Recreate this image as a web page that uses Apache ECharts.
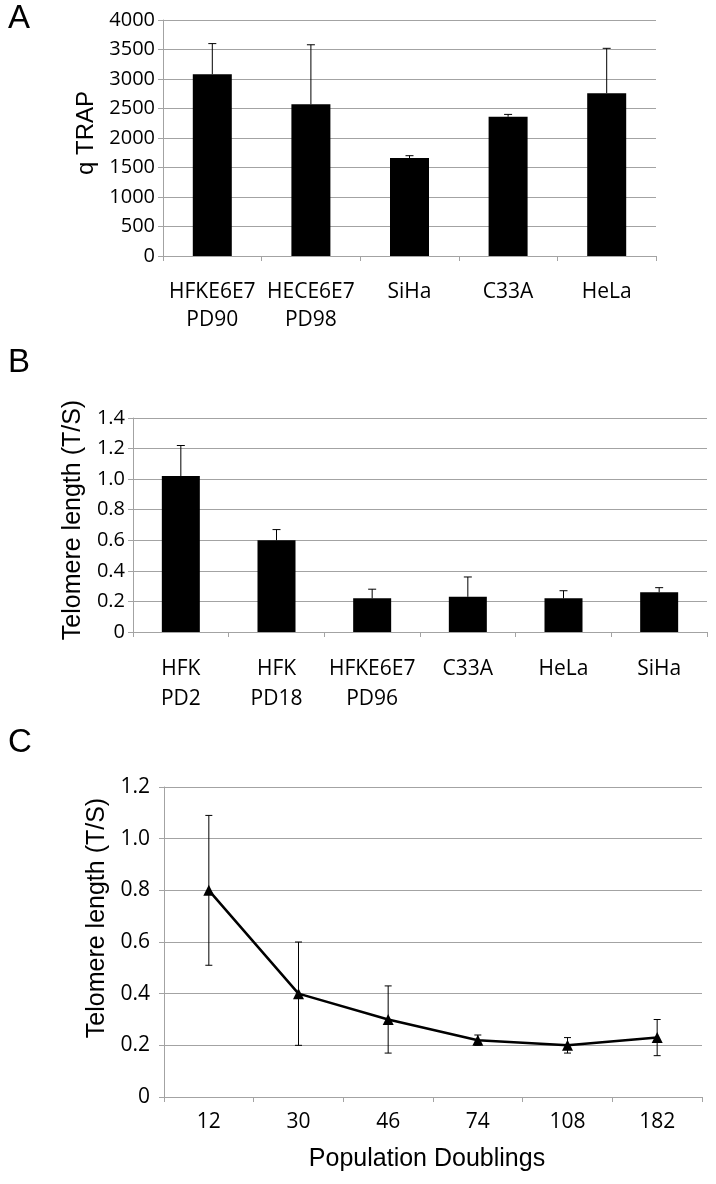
<!DOCTYPE html>
<html><head><meta charset="utf-8">
<script src="https://cdn.jsdelivr.net/npm/echarts@6/dist/echarts.min.js"></script>
<style>html,body{margin:0;padding:0;background:#fff}#c{width:716px;height:1184px}</style>
</head><body><div id="c"></div>
<script>
// Panel A
const catsA = ['HFKE6E7\nPD90', 'HECE6E7\nPD98', 'SiHa', 'C33A', 'HeLa'];
const valsA = [3080, 2570, 1660, 2360, 2760];
const errTopA = [3600, 3580, 1700, 2400, 3520];
// Panel B
const catsB = ['HFK\nPD2', 'HFK\nPD18', 'HFKE6E7\nPD96', 'C33A', 'HeLa', 'SiHa'];
const valsB = [1.02, 0.60, 0.22, 0.23, 0.22, 0.26];
const errTopB = [1.22, 0.67, 0.28, 0.36, 0.27, 0.29];
// Panel C
const catsC = ['12', '30', '46', '74', '108', '182'];
const valsC = [0.80, 0.40, 0.30, 0.22, 0.20, 0.23];
const errLowC = [0.51, 0.20, 0.17, 0.20, 0.17, 0.16];
const errHighC = [1.09, 0.60, 0.43, 0.24, 0.23, 0.30];

const GRID = '#a3a3a3';
const TICKFONT = 'Open Sans';
const NAMEFONT = 'Liberation Sans';

function errRender(capHalf, lowerCap) {
  return function (params, api) {
    const x = api.value(0), lo = api.value(1), hi = api.value(2);
    const pLo = api.coord([x, lo]), pHi = api.coord([x, hi]);
    const style = { stroke: '#000', lineWidth: 1 };
    const ch = [
      { type: 'line', shape: { x1: pLo[0], y1: pLo[1], x2: pHi[0], y2: pHi[1] }, style },
      { type: 'line', shape: { x1: pHi[0] - capHalf, y1: pHi[1], x2: pHi[0] + capHalf, y2: pHi[1] }, style }
    ];
    if (lowerCap) ch.push({ type: 'line', shape: { x1: pLo[0] - capHalf, y1: pLo[1], x2: pLo[0] + capHalf, y2: pLo[1] }, style });
    return { type: 'group', children: ch };
  };
}

function catAxis(grid, cats, fontSize, lineHeight, margin, extra) {
  return Object.assign({
    type: 'category', gridIndex: grid, data: cats,
    axisLine: { show: true, lineStyle: { color: GRID, width: 1 } },
    axisTick: { show: true, length: 5, lineStyle: { color: GRID } },
    axisLabel: { color: '#000', fontFamily: TICKFONT, fontSize, lineHeight, margin, interval: 0 },
    splitLine: { show: false }
  }, extra || {});
}
function valAxis(grid, min, max, interval, fmt, fontSize, margin, name, nameGap, nameSize, shiftUp) {
  return {
    type: 'value', gridIndex: grid, min, max, interval,
    axisLine: { show: true, lineStyle: { color: GRID, width: 1 } },
    axisTick: { show: true, length: 5, lineStyle: { color: GRID } },
    axisLabel: { color: '#000', fontFamily: TICKFONT, fontSize, margin, formatter: fmt },
    splitLine: { show: true, lineStyle: { color: GRID, width: 1 } },
    name, nameLocation: 'middle', nameRotate: 90, nameGap,
    nameTextStyle: { color: '#000', fontFamily: NAMEFONT, fontSize: nameSize, padding: [0, 0, 0, shiftUp * 2] }
  };
}
const fmt1 = v => v === 0 ? '0' : v.toFixed(1);
const LETTER = '33px "Liberation Sans"';

const option = {
  animation: false,
  backgroundColor: '#fff',
  grid: [
    { left: 163, top: 20, width: 493, height: 236, containLabel: false, outerBoundsMode: 'none' },
    { left: 133, top: 418, width: 574, height: 214, containLabel: false, outerBoundsMode: 'none' },
    { left: 164, top: 787, width: 538, height: 310, containLabel: false, outerBoundsMode: 'none' }
  ],
  xAxis: [
    catAxis(0, catsA, 21, 28, 22),
    catAxis(1, catsB, 21, 30, 22),
    catAxis(2, catsC, 21, 26, 12, {
      name: 'Population Doublings', nameLocation: 'middle', nameGap: 50,
      nameTextStyle: { color: '#000', fontFamily: NAMEFONT, fontSize: 25, padding: [0, 12, 0, 0] }
    })
  ],
  yAxis: [
    valAxis(0, 0, 4000, 500, v => String(v), 20, 8, 'q TRAP', 58, 24, 5),
    valAxis(1, 0, 1.4, 0.2, fmt1, 20, 8, 'Telomere length (T/S)', 46, 25, 5),
    valAxis(2, 0, 1.2, 0.2, fmt1, 21, 14, 'Telomere length (T/S)', 54, 25, 24)
  ],
  graphic: [
    { type: 'text', left: 8, top: 2, style: { text: 'A', font: LETTER, fill: '#000' } },
    { type: 'text', left: 8, top: 346, style: { text: 'B', font: LETTER, fill: '#000' } },
    { type: 'text', left: 8, top: 726, style: { text: 'C', font: LETTER, fill: '#000' } }
  ],
  series: [
    { type: 'bar', xAxisIndex: 0, yAxisIndex: 0, data: valsA, barWidth: 39, itemStyle: { color: '#000' }, z: 2 },
    { type: 'custom', xAxisIndex: 0, yAxisIndex: 0, renderItem: errRender(4, false), z: 3,
      encode: { x: 0, y: [1, 2] },
      data: valsA.map((v, i) => [i, v, errTopA[i]]) },
    { type: 'bar', xAxisIndex: 1, yAxisIndex: 1, data: valsB, barWidth: 38, itemStyle: { color: '#000' }, z: 2 },
    { type: 'custom', xAxisIndex: 1, yAxisIndex: 1, renderItem: errRender(4, false), z: 3,
      encode: { x: 0, y: [1, 2] },
      data: valsB.map((v, i) => [i, v, errTopB[i]]) },
    { type: 'custom', xAxisIndex: 2, yAxisIndex: 2, renderItem: errRender(3.5, true), z: 3,
      encode: { x: 0, y: [1, 2] },
      data: valsC.map((v, i) => [i, errLowC[i], errHighC[i]]) },
    { type: 'line', xAxisIndex: 2, yAxisIndex: 2, data: valsC, symbol: 'triangle', symbolSize: 11,
      lineStyle: { color: '#000', width: 2.5 }, itemStyle: { color: '#000' }, z: 4 }
  ]
};
const chart = echarts.init(document.getElementById('c'), null, { renderer: 'canvas' });
chart.setOption(option);
</script>
</body></html>
